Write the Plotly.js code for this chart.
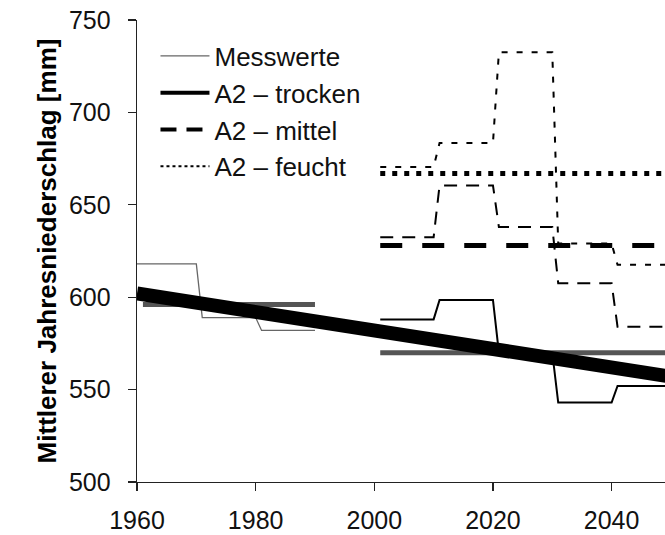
<!DOCTYPE html>
<html><head><meta charset="utf-8">
<script src="https://cdn.plot.ly/plotly-3.0.1.min.js"></script>
<style>html,body{margin:0;padding:0;background:#fff}#chart{width:665px;height:535px}</style>
</head><body><div id="chart"></div>
<script>
// Observed (Messwerte) decadal steps
const obsYears = [1960, 1970, 1971, 1980, 1981, 1990];
const obsValues = [618, 618, 589, 589, 582, 582];
const obsMeanYears = [1961, 1990];
const obsMeanValues = [596, 596];
// A2 scenarios, decadal steps 2001-2050
const scenYears = [2001, 2010, 2011, 2020, 2021, 2030, 2031, 2040, 2041, 2050];
const trockenValues = [588, 588, 598.5, 598.5, 570, 570, 543, 543, 552, 552];
const mittelValues = [632.5, 632.5, 660.5, 660.5, 638, 638, 607.5, 607.5, 584, 584];
const feuchtValues = [670.5, 670.5, 683.5, 683.5, 732.5, 732.5, 629, 629, 617.5, 617.5];
// Scenario means
const scenMeanYears = [2001, 2050];
const trockenMean = [570, 570];
const mittelMean = [628, 628];
const feuchtMean = [667, 667];
// Trend line
const trendYears = [1960, 2050];
const trendValues = [602, 557];
// Axes
const xTicks = [1960, 1980, 2000, 2020, 2040];
const yTicks = [500, 550, 600, 650, 700, 750];
const legendNames = ['Messwerte', 'A2 – trocken', 'A2 – mittel', 'A2 – feucht'];

const FONT = 'Liberation Sans, Arial, sans-serif';
const traces = [
  {x: obsMeanYears, y: obsMeanValues, mode: 'lines', line: {color: '#555', width: 5}, showlegend: false, hoverinfo: 'skip'},
  {x: scenMeanYears, y: trockenMean, mode: 'lines', line: {color: '#555', width: 5}, showlegend: false, hoverinfo: 'skip'},
  {x: obsYears, y: obsValues, name: legendNames[0], mode: 'lines', line: {color: '#666', width: 1.3}, showlegend: true},
  {x: scenYears, y: trockenValues, mode: 'lines', line: {color: '#000', width: 2}, showlegend: false},
  {x: scenYears, y: mittelValues, mode: 'lines', line: {color: '#000', width: 2, dash: '13px,9px'}, showlegend: false},
  {x: scenYears, y: feuchtValues, mode: 'lines', line: {color: '#000', width: 2, dash: '6px,9px'}, showlegend: false},
  {x: scenMeanYears, y: mittelMean, mode: 'lines', line: {color: '#000', width: 5, dash: '22px,20px'}, showlegend: false},
  {x: scenMeanYears, y: feuchtMean, mode: 'lines', line: {color: '#000', width: 5, dash: '5px,7px'}, showlegend: false},
  {x: trendYears, y: trendValues, mode: 'lines', line: {color: '#000', width: 14}, showlegend: false},
  // legend entries
  {x: [null], y: [null], name: legendNames[1], mode: 'lines', line: {color: '#000', width: 4}, showlegend: true},
  {x: [null], y: [null], name: legendNames[2], mode: 'lines', line: {color: '#000', width: 4, dash: '16px,10px'}, showlegend: true},
  {x: [null], y: [null], name: legendNames[3], mode: 'lines', line: {color: '#000', width: 2, dash: '3px,3px'}, showlegend: true}
];

const layout = {
  width: 665, height: 535,
  margin: {l: 137, r: 0, t: 20, b: 53},
  paper_bgcolor: '#fff', plot_bgcolor: '#fff',
  font: {family: FONT, size: 25, color: '#111'},
  xaxis: {range: [1960, 2049], tickvals: xTicks, showgrid: false, zeroline: false,
    showline: true, linecolor: '#222', linewidth: 1.3, ticks: 'outside', ticklen: 8,
    tickcolor: '#222', tickwidth: 1.3, tickfont: {size: 25, family: FONT}, ticklabelstandoff: 8, fixedrange: true},
  yaxis: {range: [500, 750], tickvals: yTicks, showgrid: false, zeroline: false,
    showline: true, linecolor: '#222', linewidth: 1.3, ticks: 'outside', ticklen: 8,
    tickcolor: '#222', tickwidth: 1.3, tickfont: {size: 25, family: FONT}, ticklabelstandoff: 12, fixedrange: true,
    title: {text: 'Mittlerer Jahresniederschlag [mm]', font: {size: 26, family: FONT, weight: 'bold', color: '#000'}, standoff: 5}},
  showlegend: true,
  legend: {x: 0.035, y: 0.973, xanchor: 'left', yanchor: 'top', bgcolor: 'rgba(0,0,0,0)',
    font: {size: 26, family: FONT, color: '#111'}, itemwidth: 49, traceorder: 'normal'}
};

Plotly.newPlot('chart', traces, layout, {displayModeBar: false, staticPlot: true});
</script></body></html>
